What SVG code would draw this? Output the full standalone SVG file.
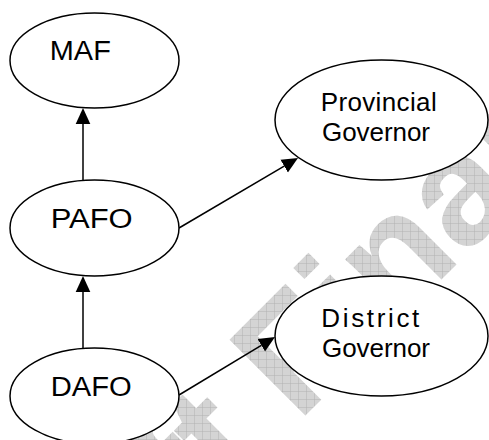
<svg xmlns="http://www.w3.org/2000/svg" width="489" height="440" viewBox="0 0 489 440">
<defs>
<style>
.node ellipse{fill:#fff;stroke:#000;stroke-width:1.5}
.node text{font-family:"Liberation Sans",Arial,sans-serif;font-size:26px;fill:#000}
.node text.big{font-size:27px}
.conn line{stroke:#000;stroke-width:1.5}
</style>
<pattern id="hatch" width="8" height="8" patternUnits="userSpaceOnUse" patternTransform="rotate(45)">
<rect width="8" height="8" fill="#d4d4d4"/>
<path d="M0,0 H8 M0,0 V8" stroke="#b2b2b2" stroke-width="1"/>
</pattern>
<marker id="arr" markerUnits="userSpaceOnUse" markerWidth="18" markerHeight="16" viewBox="0 -8 18 16" refX="0" refY="0" orient="auto">
<path d="M0,-7.3 L16,0 L0,7.3 z" fill="#000"/>
</marker>
</defs>
<rect width="489" height="440" fill="#fff"/>
<g id="watermark">
<text transform="translate(10,711) rotate(-45)" font-family="Liberation Sans,Arial,sans-serif" font-weight="bold" font-size="156" fill="url(#hatch)">Draft Final</text>
</g>
<g id="connectors" class="conn">
<line x1="83" y1="180" x2="83" y2="124" marker-end="url(#arr)"/>
<line x1="83" y1="348" x2="83" y2="292" marker-end="url(#arr)"/>
<line x1="179" y1="228" x2="284.2" y2="166.1" marker-end="url(#arr)"/>
<line x1="179" y1="395" x2="261.3" y2="345.3" marker-end="url(#arr)"/>
</g>
<g id="MAF" class="node">
<ellipse cx="94.5" cy="60.5" rx="84.5" ry="47.5"/>
<text class="big" x="49.8" y="60" textLength="61" lengthAdjust="spacingAndGlyphs">MAF</text>
</g>
<g id="PAFO" class="node">
<ellipse cx="94.5" cy="228" rx="84.5" ry="48"/>
<text class="big" x="50.7" y="228.3" textLength="82" lengthAdjust="spacingAndGlyphs">PAFO</text>
</g>
<g id="DAFO" class="node">
<ellipse cx="94.5" cy="396" rx="84.5" ry="48"/>
<text class="big" x="50.7" y="396" textLength="81" lengthAdjust="spacingAndGlyphs">DAFO</text>
</g>
<g id="ProvincialGovernor" class="node">
<ellipse cx="381.5" cy="120" rx="106.5" ry="60"/>
<text x="320.7" y="111" textLength="116">Provincial</text>
<text x="322" y="141" textLength="108">Governor</text>
</g>
<g id="DistrictGovernor" class="node">
<ellipse cx="381.5" cy="336" rx="106.5" ry="60"/>
<text x="321.3" y="326.7" textLength="98">District</text>
<text x="322" y="356.7" textLength="108">Governor</text>
</g>
</svg>
